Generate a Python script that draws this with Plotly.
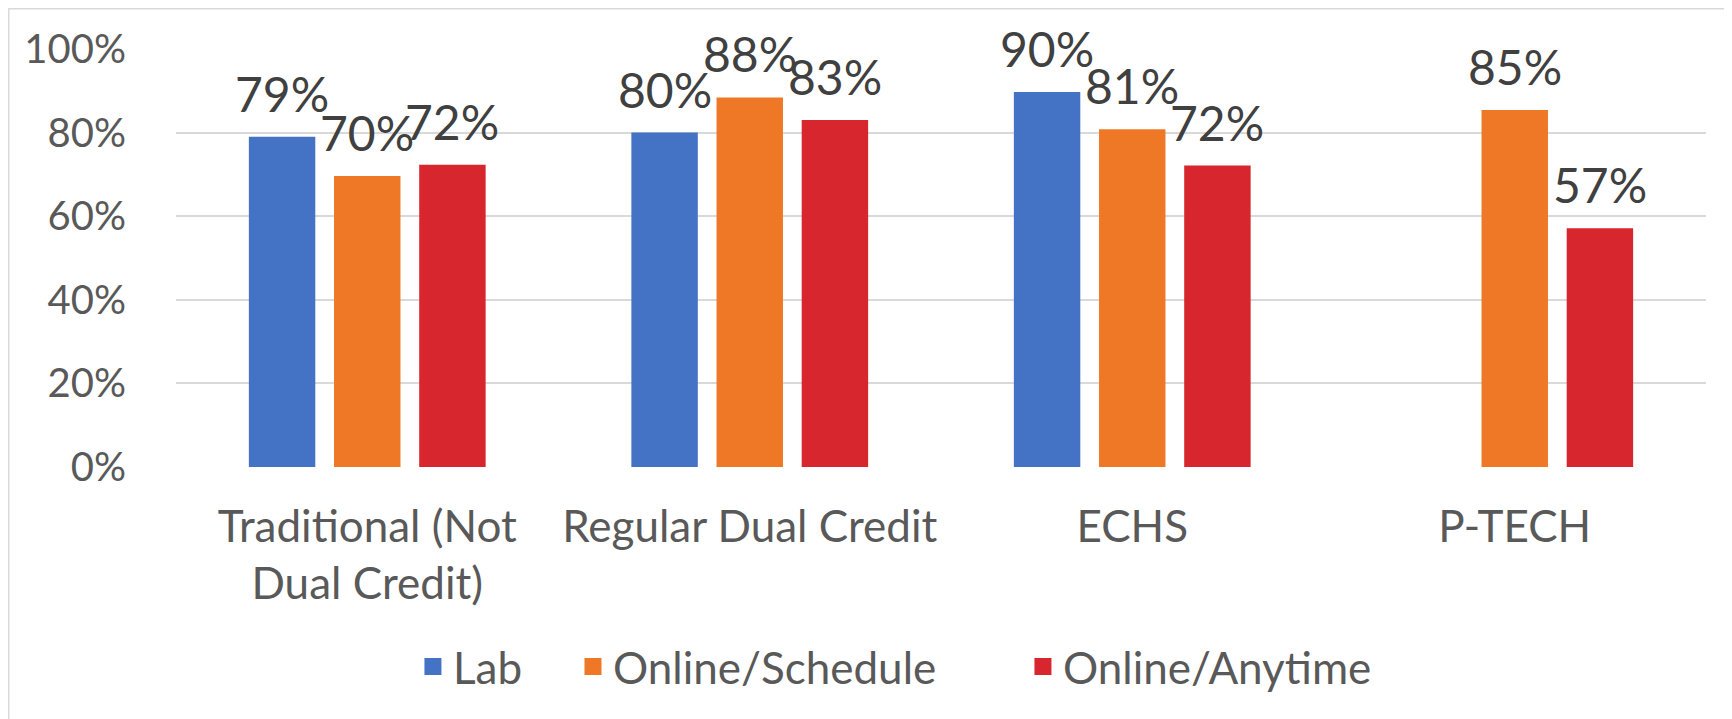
import plotly.graph_objects as go

categories = ["Traditional (Not<br>Dual Credit)", "Regular Dual Credit", "ECHS", "P-TECH"]
series_names = ["Lab", "Online/Schedule", "Online/Anytime"]
lab = [0.790, 0.800, 0.897, None]
online_schedule = [0.696, 0.884, 0.808, 0.854]
online_anytime = [0.723, 0.830, 0.721, 0.571]
colors = ["#4472C4", "#EF7826", "#D8262E"]
legend_x = [0.2338, 0.3262, 0.5860]   # container fraction of each legend entry

W, H = 1732, 719
PAGE = 8            # default body margin of the html page
L, R, T, B = 176 - PAGE, 26 + PAGE, 49 - PAGE, 252 + PAGE
BARGAP = 0.332
BARGROUPGAP = 0.22
FONT = "Lato, 'Open Sans', sans-serif"

fig = go.Figure()
series = [lab, online_schedule, online_anytime]
legend_ids = ["legend", "legend2", "legend3"]
for k, (name, vals, col, lg) in enumerate(zip(series_names, series, colors, legend_ids)):
    fig.add_trace(go.Bar(
        x=categories, y=vals, name=name, offsetgroup=str(k),
        marker=dict(color=col, line=dict(width=0)),
        showlegend=False, hoverinfo="x+y+name",
    ))
    # legend-only entry (larger swatch)
    fig.add_trace(go.Bar(
        x=[categories[0]], y=[None], name=name, offsetgroup=str(k),
        marker=dict(color=col, line=dict(color=col, width=5)),
        legend=lg, showlegend=True, hoverinfo="skip",
    ))

# data labels above bars
plot_w = W - L - R
cat_px = plot_w / len(categories)
slot_px = (1 - BARGAP) * cat_px / len(series)
for i, vals in enumerate(series):
    for c, v in zip(categories, vals):
        if v is None:
            continue
        fig.add_annotation(
            x=c, y=v, xref="x", yref="y",
            text=f"{v:.0%}", showarrow=False,
            xanchor="center", yanchor="bottom",
            xshift=(i - 1) * slot_px, yshift=13,
            font=dict(family=FONT, size=48, color="#404040"),
        )

# chart border (left/top visible, right/bottom fall outside the page)
plot_h = H - T - B
edge = 0.75
fig.add_shape(type="rect", xref="paper", yref="paper",
              x0=(edge - L) / plot_w, x1=1.2,
              y0=-1.0, y1=1 + (T - edge) / plot_h,
              line=dict(color="#D9D9D9", width=1.5), fillcolor="rgba(0,0,0,0)",
              layer="below")

legend_common = dict(orientation="h", xref="container", yref="container",
                     y=1 - (667 - PAGE) / H, yanchor="middle", xanchor="left",
                     font=dict(family=FONT, size=44, color="#595959"),
                     bgcolor="rgba(0,0,0,0)", borderwidth=0)

fig.update_layout(
    width=W, height=H,
    margin=dict(l=L, r=R, t=T, b=B, autoexpand=False),
    paper_bgcolor="white", plot_bgcolor="white",
    barmode="group", bargap=BARGAP, bargroupgap=BARGROUPGAP,
    font=dict(family=FONT, color="#595959"),
    showlegend=True,
    legend=dict(x=legend_x[0], **legend_common),
    legend2=dict(x=legend_x[1], **legend_common),
    legend3=dict(x=legend_x[2], **legend_common),
    xaxis=dict(
        type="category", showgrid=False, showline=False, zeroline=False,
        ticks="", ticklabelstandoff=30,
        tickfont=dict(family=FONT, size=44, color="#595959"),
    ),
    yaxis=dict(
        range=[0, 1], dtick=0.2, tickformat=".0%",
        showgrid=True, gridcolor="#D9D9D9", gridwidth=2,
        zeroline=False, showline=False, ticks="", ticklabelstandoff=49,
        tickfont=dict(family=FONT, size=40, color="#595959"),
    ),
)

fig.write_html("out.html")
